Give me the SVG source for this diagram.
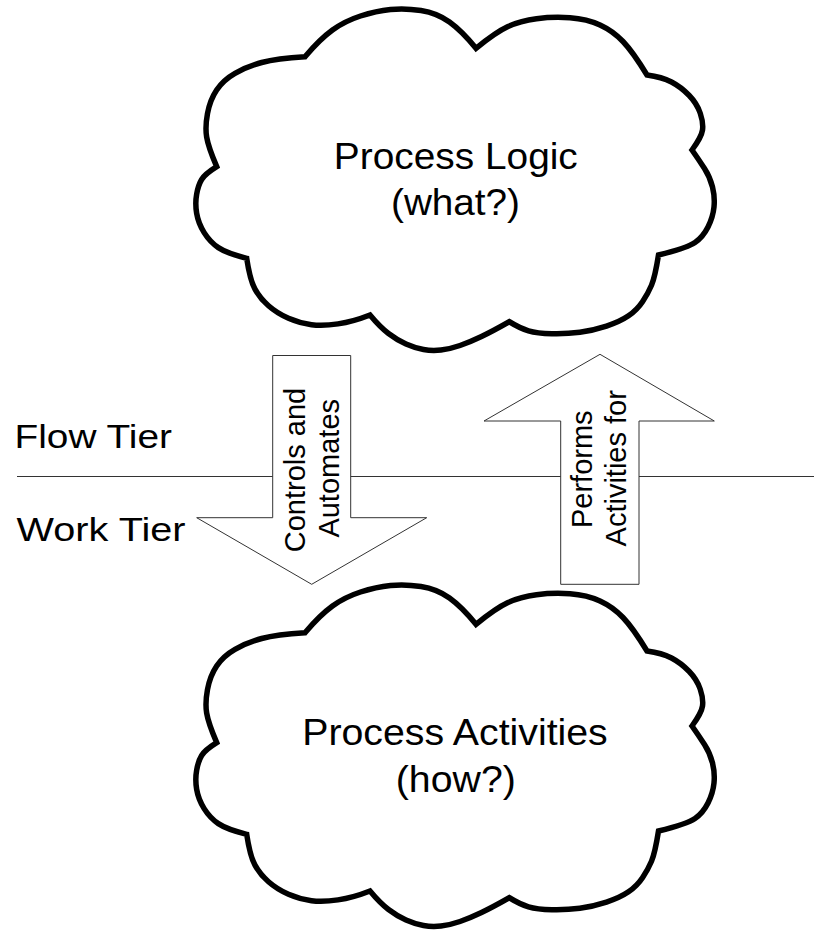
<svg xmlns="http://www.w3.org/2000/svg" xmlns:xlink="http://www.w3.org/1999/xlink" width="814" height="933" viewBox="0 0 814 933">
  <style>
    text { font-family: "Liberation Sans", Arial, sans-serif; fill: #000; }
    .cloud { fill: #fff; stroke: #000; stroke-width: 5.5; stroke-linejoin: miter; }
    .label { font-size: 37px; text-anchor: middle; }
    .tier { font-size: 34px; }
    .arrow { fill: #fff; stroke: #333; stroke-width: 1; }
    .arrow-text { font-size: 29px; text-anchor: middle; }
    .divider { stroke: #333; stroke-width: 1; }
  </style>
  <defs>
    <!-- nine-lobed cloud outline, drawn clockwise from the upper-left notch -->
    <path id="cloudShape" d="M305,56.7
      Q320,39 332.5,30 Q345,21 360.5,16 Q376,11 390.5,9.5 Q405,8 421,10.5 Q437,13 449.5,22 Q462,31 476,48.3
      Q496,32 508,26.5 Q520,21 536.5,18.75 Q553,16.5 570,17.75 Q587,19 600,25 Q613,31 623,41.5 Q633,52 647,75
      Q662,77 671.5,82 Q681,87 689,95.25 Q697,103.5 700.25,113.25 Q703.5,123 702.5,130 Q701.5,137 692,150
      Q699,160 704.5,168.5 Q710,177 712.5,187 Q715,197 714,207 Q713,217 708,227 Q703,237 695,242.5 Q687,248 658.5,255
      Q655,277 651.5,285.25 Q648,293.5 642.5,301.75 Q637,310 628.5,315.85 Q620,321.7 606.5,326.1 Q593,330.5 579.85,332.25 Q566.7,334 551.85,333.65 Q537,333.3 528.5,330.8 Q520,328.3 509.3,321.7
      Q493,331 481.5,336.5 Q470,342 460,345.5 Q450,349 441,350 Q432,351 423.5,349.5 Q415,348 406,344 Q397,340 388.5,333.5 Q380,327 370,315
      Q353,321.7 338,323.85 Q323,326 311.5,324.65 Q300,323.3 288.5,318.3 Q277,313.3 268.5,305.8 Q260,298.3 255,289.15 Q250,280 246.7,258.3
      Q226.7,253.3 218.35,247.65 Q210,242 204.15,232.65 Q198.3,223.3 196.65,213.3 Q195,203.3 196.65,194.15 Q198.3,185 201.65,179.5 Q205,174 216.7,166.7
      Q208.3,147 206.65,137 Q205,127 207.5,113.5 Q210,100 216.65,90 Q223.3,80 235,73.35 Q246.7,66.7 261.7,62.5 Q276.7,58.3 305,56.7 Z"/>
  </defs>

  <!-- boundary between the two tiers -->
  <g id="tier-divider">
    <line class="divider" x1="17" y1="476.5" x2="814" y2="476.5"/>
  </g>

  <g id="flow-tier-label">
    <text class="tier" x="14.5" y="448.3" textLength="157.5" lengthAdjust="spacingAndGlyphs">Flow Tier</text>
  </g>
  <g id="work-tier-label">
    <text class="tier" x="16.5" y="540.7" textLength="169" lengthAdjust="spacingAndGlyphs">Work Tier</text>
  </g>

  <!-- block arrows between the clouds -->
  <g id="connectors">
    <g id="controls-and-automates">
      <polygon class="arrow" points="272.7,355.5 350.7,355.5 350.7,517.7 426.7,517.7 311.7,584.3 196.7,517.7 272.7,517.7"/>
      <text class="arrow-text" transform="translate(304.5,470) rotate(-90)">Controls and</text>
      <text class="arrow-text" transform="translate(339.3,468.3) rotate(-90)">Automates</text>
    </g>
    <g id="performs-activities-for">
      <polygon class="arrow" points="600,354.3 714.3,421 639,421 639,584.3 560.7,584.3 560.7,421 484,421"/>
      <text class="arrow-text" transform="translate(591.7,469.2) rotate(-90)">Performs</text>
      <text class="arrow-text" transform="translate(626,468.3) rotate(-90)">Activities for</text>
    </g>
  </g>

  <g id="process-logic">
    <use xlink:href="#cloudShape" href="#cloudShape" class="cloud"/>
    <text class="label" x="455.8" y="169" textLength="244" lengthAdjust="spacingAndGlyphs">Process Logic</text>
    <text class="label" x="455.5" y="215" textLength="129" lengthAdjust="spacingAndGlyphs">(what?)</text>
  </g>

  <g id="process-activities">
    <use xlink:href="#cloudShape" href="#cloudShape" class="cloud" transform="translate(0,576)"/>
    <text class="label" x="455" y="745" textLength="305.5" lengthAdjust="spacingAndGlyphs">Process Activities</text>
    <text class="label" x="455.8" y="791.7" textLength="120" lengthAdjust="spacingAndGlyphs">(how?)</text>
  </g>
</svg>
